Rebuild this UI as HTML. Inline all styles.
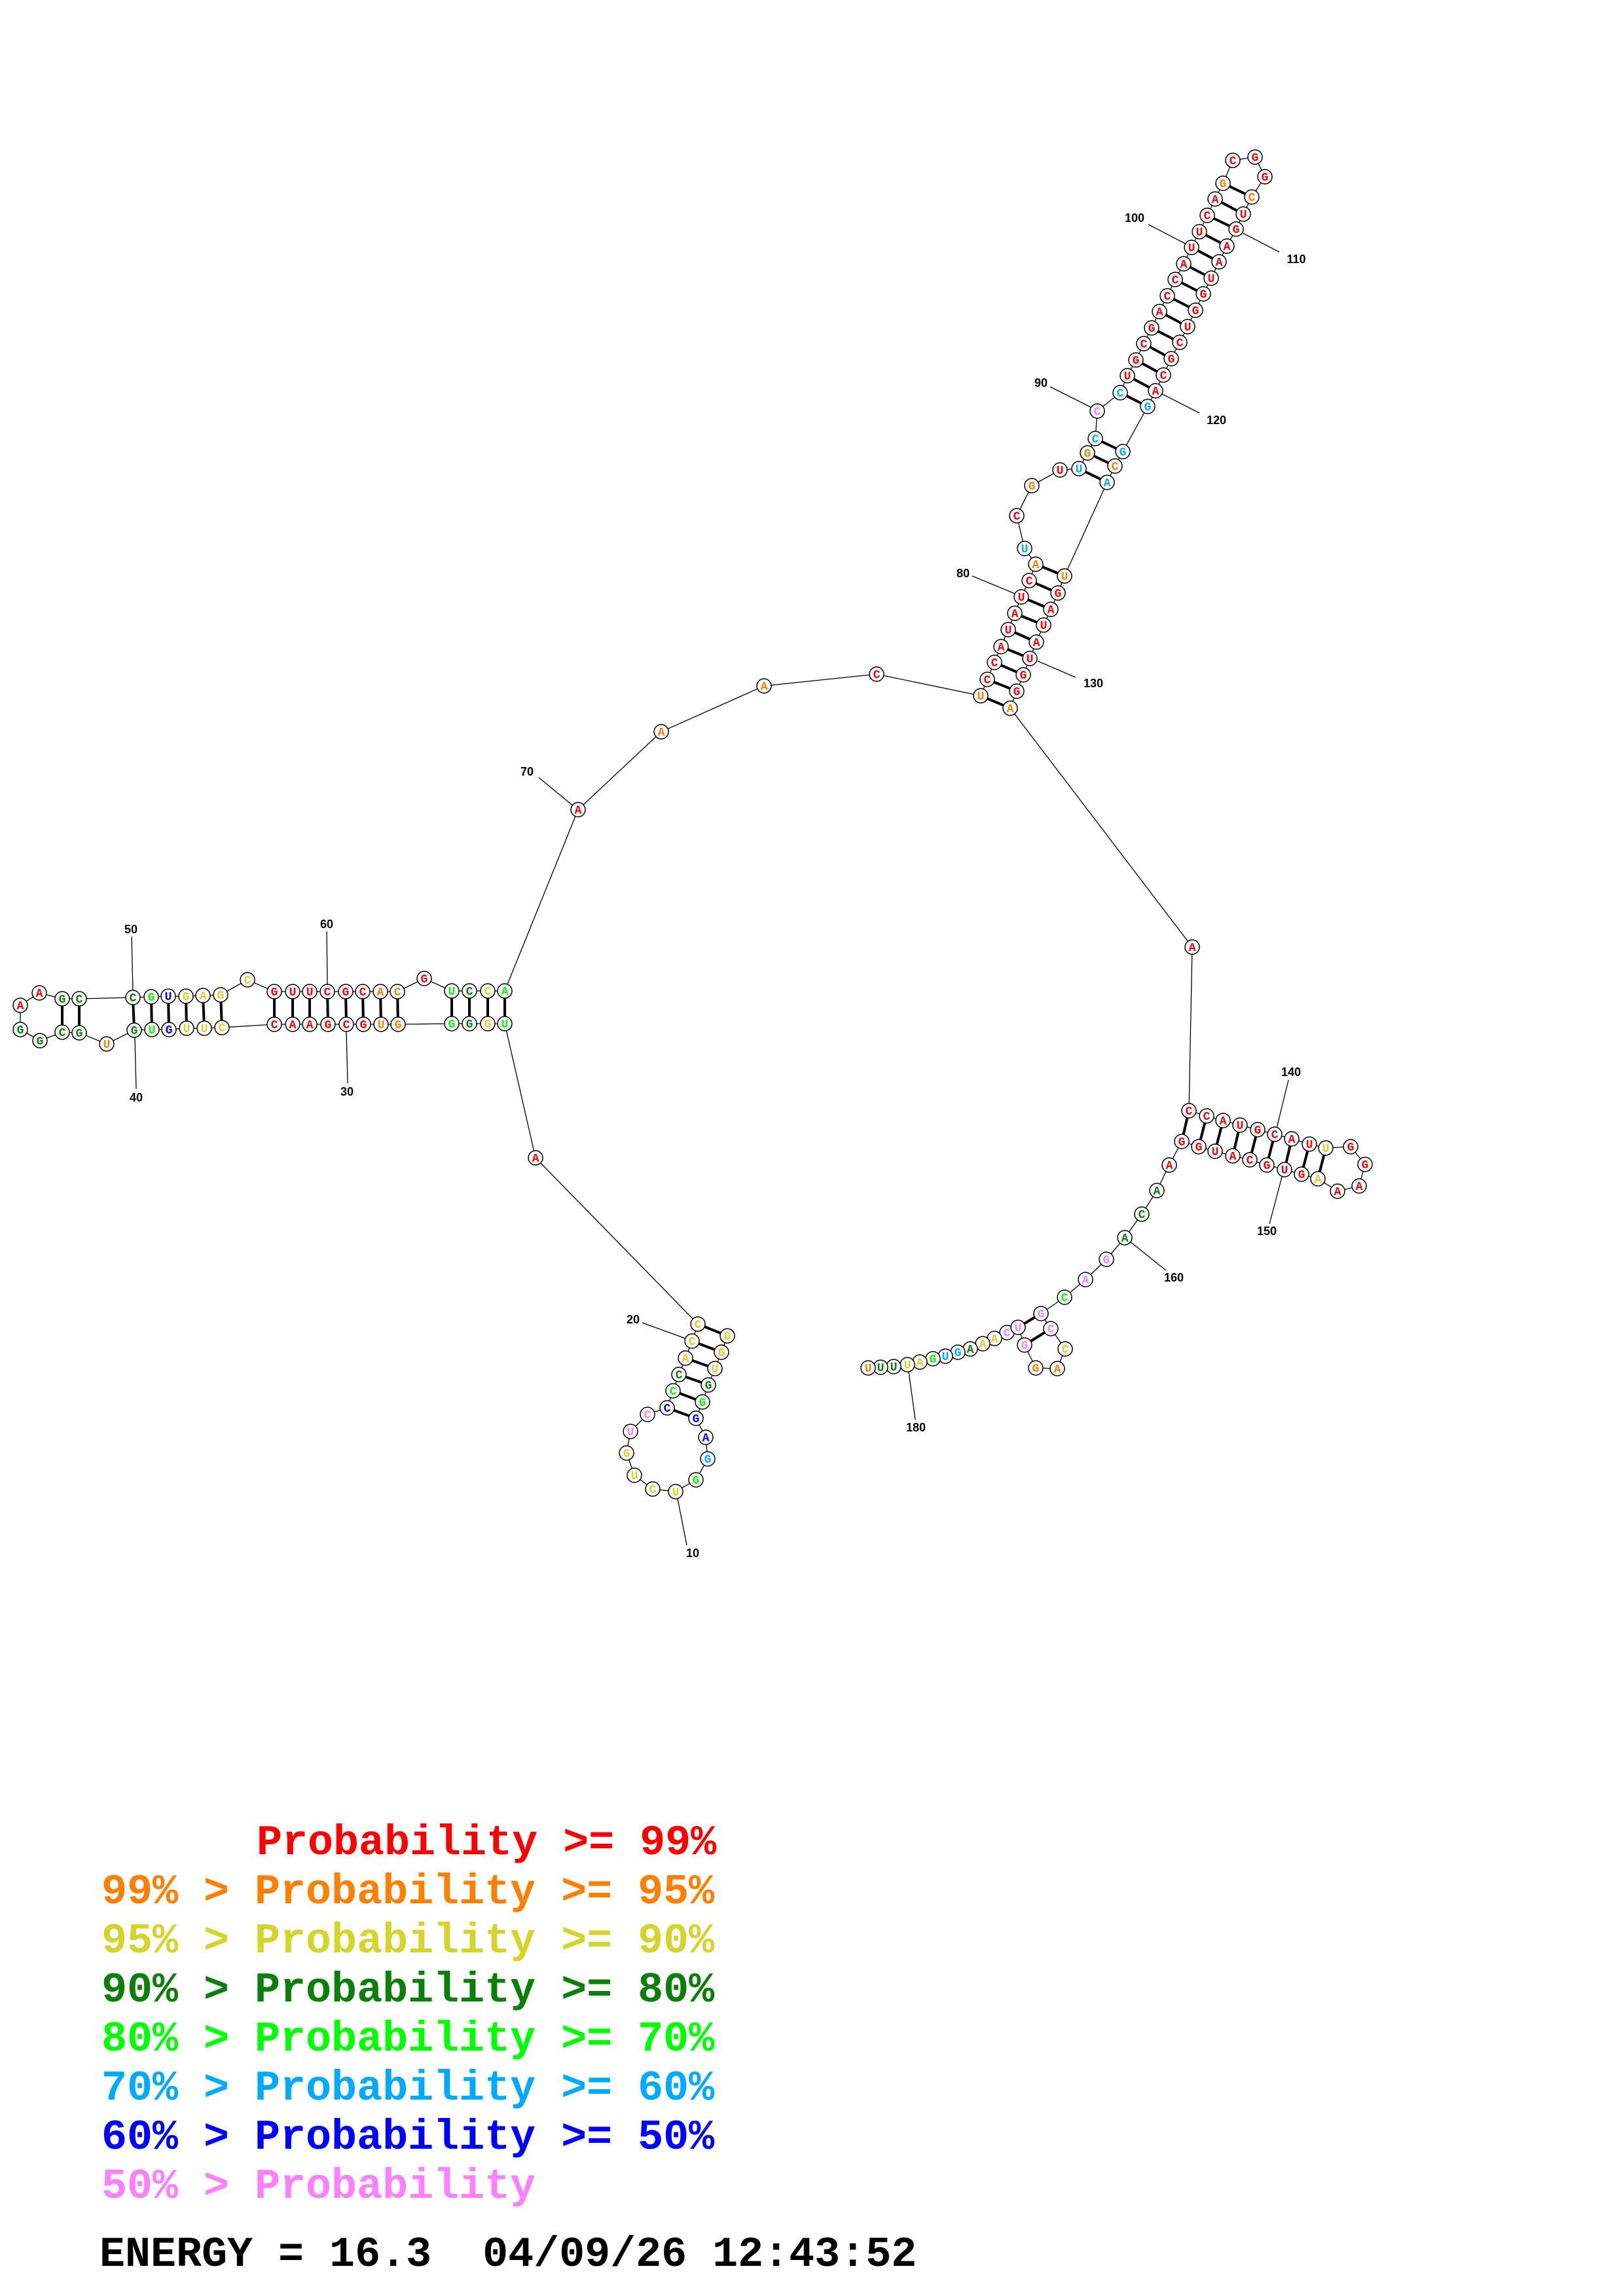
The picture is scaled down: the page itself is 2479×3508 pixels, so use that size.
<!DOCTYPE html>
<html><head><meta charset="utf-8"><style>
html,body{margin:0;padding:0;background:#fff;}
svg{display:block;}
.bb{fill:none;stroke:#000;stroke-width:1.3;}
.pr{stroke:#000;stroke-width:4;}
.tk{stroke:#000;stroke-width:1.3;}
circle{fill:#fff;stroke:#000;stroke-width:1.5;}
text.n{font-family:"Liberation Mono",monospace;font-weight:bold;font-size:18px;text-anchor:middle;}
text.l{font-family:"Liberation Sans",sans-serif;font-weight:bold;font-size:18px;text-anchor:middle;fill:#000;}
text.lg{font-family:"Liberation Mono",monospace;font-weight:bold;font-size:65px;white-space:pre;}
.r{fill:#ff0000}.o{fill:#ff8000}.y{fill:#d4d42a}.d{fill:#0a800a}.g{fill:#00ff00}.c{fill:#00aaff}.b{fill:#0000ff}.p{fill:#ff80ff}.k{fill:#000}
</style></head><body>
<svg width="2479" height="3508" viewBox="0 0 2479 3508" xmlns="http://www.w3.org/2000/svg">
<polyline class="bb" points="1111,2041 1102,2066 1092,2091 1082,2116 1073,2142 1063,2167 1078,2196 1081,2229 1063,2261 1032,2279 997,2275 969,2254 957,2220 963,2187 989,2161 1019,2151 1028,2125 1037,2100 1047,2075 1057,2049 1066,2023 818,1769 771,1564 745,1564 717,1564 690,1564 608,1565 582,1565 555,1565 529,1565 501,1565 473,1565 447,1565 419,1565 339,1570 312,1571 285,1571 258,1573 232,1573 205,1574 163,1595 121,1578 95,1577 61,1590 31,1573 31,1536 60,1517 95,1526 121,1526 203,1524 231,1523 257,1522 284,1522 310,1521 337,1520 378,1497 419,1515 447,1515 473,1515 500,1515 528,1515 554,1515 581,1515 607,1515 648,1495 690,1514 717,1514 745,1514 771,1514 883,1237 1010,1118 1167,1048 1339,1030 1498,1063 1508,1038 1519,1012 1529,988 1540,962 1550,937 1560,912 1572,887 1582,862 1565,838 1553,788 1576,742 1619,718 1648,716 1661,692 1673,670 1676,628 1711,600 1722,574 1735,550 1747,525 1759,501 1771,476 1783,452 1795,427 1808,403 1820,378 1832,354 1844,329 1856,304 1868,280 1883,245 1917,240 1932,270 1912,301 1899,327 1888,350 1874,376 1862,400 1850,425 1838,449 1826,474 1814,499 1802,523 1789,548 1777,573 1765,597 1753,621 1715,690 1703,712 1691,737 1626,880 1616,906 1605,931 1594,955 1583,981 1573,1006 1563,1031 1553,1056 1543,1082 1821,1447 1816,1697 1843,1705 1868,1712 1894,1719 1921,1726 1947,1733 1973,1740 2000,1748 2025,1754 2063,1752 2085,1779 2076,1812 2043,1820 2013,1801 1988,1794 1962,1787 1935,1780 1909,1772 1883,1766 1856,1759 1831,1752 1805,1744 1786,1780 1767,1819 1744,1855 1718,1891 1690,1924 1658,1955 1626,1982 1590,2007 1605,2030 1627,2061 1615,2091 1582,2090 1565,2055 1555,2028 1538,2036 1519,2045 1501,2053 1482,2061 1463,2066 1444,2072 1425,2076 1405,2081 1386,2085 1365,2088 1345,2089 1326,2090"/>
<g class="pr">
<line x1="1111" y1="2041" x2="1066" y2="2023"/><line x1="1102" y1="2066" x2="1057" y2="2049"/><line x1="1092" y1="2091" x2="1047" y2="2075"/><line x1="1082" y1="2116" x2="1037" y2="2100"/><line x1="1073" y1="2142" x2="1028" y2="2125"/><line x1="1063" y1="2167" x2="1019" y2="2151"/>
<line x1="95" y1="1526" x2="95" y2="1577"/><line x1="121" y1="1526" x2="121" y2="1578"/>
<line x1="203" y1="1524" x2="205" y2="1574"/><line x1="231" y1="1523" x2="232" y2="1573"/><line x1="257" y1="1522" x2="258" y2="1573"/><line x1="284" y1="1522" x2="285" y2="1571"/><line x1="310" y1="1521" x2="312" y2="1571"/><line x1="337" y1="1520" x2="339" y2="1570"/>
<line x1="419" y1="1515" x2="419" y2="1565"/><line x1="447" y1="1515" x2="447" y2="1565"/><line x1="473" y1="1515" x2="473" y2="1565"/><line x1="500" y1="1515" x2="501" y2="1565"/><line x1="528" y1="1515" x2="529" y2="1565"/><line x1="554" y1="1515" x2="555" y2="1565"/><line x1="581" y1="1515" x2="582" y2="1565"/><line x1="607" y1="1515" x2="608" y2="1565"/>
<line x1="690" y1="1514" x2="690" y2="1564"/><line x1="717" y1="1514" x2="717" y2="1564"/><line x1="745" y1="1514" x2="745" y2="1564"/><line x1="771" y1="1514" x2="771" y2="1564"/>
<line x1="1498" y1="1063" x2="1543" y2="1082"/><line x1="1508" y1="1038" x2="1553" y2="1056"/><line x1="1519" y1="1012" x2="1563" y2="1031"/><line x1="1529" y1="988" x2="1573" y2="1006"/><line x1="1540" y1="962" x2="1583" y2="981"/><line x1="1550" y1="937" x2="1594" y2="955"/><line x1="1560" y1="912" x2="1605" y2="931"/><line x1="1572" y1="887" x2="1616" y2="906"/><line x1="1582" y1="862" x2="1626" y2="880"/>
<line x1="1648" y1="716" x2="1691" y2="737"/><line x1="1661" y1="692" x2="1703" y2="712"/><line x1="1673" y1="670" x2="1715" y2="690"/>
<line x1="1711" y1="600" x2="1753" y2="621"/><line x1="1722" y1="574" x2="1765" y2="597"/><line x1="1735" y1="550" x2="1777" y2="573"/><line x1="1747" y1="525" x2="1789" y2="548"/><line x1="1759" y1="501" x2="1802" y2="523"/><line x1="1771" y1="476" x2="1814" y2="499"/><line x1="1783" y1="452" x2="1826" y2="474"/><line x1="1795" y1="427" x2="1838" y2="449"/><line x1="1808" y1="403" x2="1850" y2="425"/><line x1="1820" y1="378" x2="1862" y2="400"/><line x1="1832" y1="354" x2="1874" y2="376"/><line x1="1844" y1="329" x2="1888" y2="350"/><line x1="1856" y1="304" x2="1899" y2="327"/><line x1="1868" y1="280" x2="1912" y2="301"/>
<line x1="1816" y1="1697" x2="1805" y2="1744"/><line x1="1843" y1="1705" x2="1831" y2="1752"/><line x1="1868" y1="1712" x2="1856" y2="1759"/><line x1="1894" y1="1719" x2="1883" y2="1766"/><line x1="1921" y1="1726" x2="1909" y2="1772"/><line x1="1947" y1="1733" x2="1935" y2="1780"/><line x1="1973" y1="1740" x2="1962" y2="1787"/><line x1="2000" y1="1748" x2="1988" y2="1794"/><line x1="2025" y1="1754" x2="2013" y2="1801"/>
<line x1="1590" y1="2007" x2="1555" y2="2028"/><line x1="1605" y1="2030" x2="1565" y2="2055"/>
</g>
<g class="tk">
<line x1="201" y1="1431" x2="203" y2="1513"/><line x1="499" y1="1423" x2="500" y2="1504"/><line x1="206" y1="1585" x2="208" y2="1664"/><line x1="529" y1="1576" x2="531" y2="1655"/>
<line x1="823" y1="1188" x2="874" y2="1230"/>
<line x1="1485" y1="880" x2="1550" y2="907"/><line x1="1585" y1="1010" x2="1643" y2="1035"/>
<line x1="1604" y1="591" x2="1666" y2="622"/><line x1="1775" y1="602" x2="1832" y2="631"/>
<line x1="1754" y1="343" x2="1810" y2="372"/><line x1="1898" y1="356" x2="1954" y2="385"/>
<line x1="1968" y1="1650" x2="1950" y2="1724"/><line x1="1939" y1="1870" x2="1958" y2="1798"/>
<line x1="1781" y1="1941" x2="1726" y2="1897"/><line x1="1398" y1="2169" x2="1388" y2="2096"/>
<line x1="981" y1="2021" x2="1047" y2="2045"/><line x1="1035" y1="2290" x2="1049" y2="2361"/>
</g>
<g>
<circle cx="1111" cy="2041" r="11"/><text class="n y" x="1111" y="2047">G</text>
<circle cx="1102" cy="2066" r="11"/><text class="n y" x="1102" y="2072">G</text>
<circle cx="1092" cy="2091" r="11"/><text class="n y" x="1092" y="2097">U</text>
<circle cx="1082" cy="2116" r="11"/><text class="n d" x="1082" y="2122">G</text>
<circle cx="1073" cy="2142" r="11"/><text class="n g" x="1073" y="2148">G</text>
<circle cx="1063" cy="2167" r="11"/><text class="n b" x="1063" y="2173">G</text>
<circle cx="1078" cy="2196" r="11"/><text class="n b" x="1078" y="2202">A</text>
<circle cx="1081" cy="2229" r="11"/><text class="n c" x="1081" y="2235">G</text>
<circle cx="1063" cy="2261" r="11"/><text class="n g" x="1063" y="2267">G</text>
<circle cx="1032" cy="2279" r="11"/><text class="n y" x="1032" y="2285">U</text>
<circle cx="997" cy="2275" r="11"/><text class="n y" x="997" y="2281">C</text>
<circle cx="969" cy="2254" r="11"/><text class="n y" x="969" y="2260">U</text>
<circle cx="957" cy="2220" r="11"/><text class="n y" x="957" y="2226">G</text>
<circle cx="963" cy="2187" r="11"/><text class="n p" x="963" y="2193">U</text>
<circle cx="989" cy="2161" r="11"/><text class="n p" x="989" y="2167">C</text>
<circle cx="1019" cy="2151" r="11"/><text class="n b" x="1019" y="2157">C</text>
<circle cx="1028" cy="2125" r="11"/><text class="n g" x="1028" y="2131">C</text>
<circle cx="1037" cy="2100" r="11"/><text class="n d" x="1037" y="2106">C</text>
<circle cx="1047" cy="2075" r="11"/><text class="n y" x="1047" y="2081">A</text>
<circle cx="1057" cy="2049" r="11"/><text class="n y" x="1057" y="2055">C</text>
<circle cx="1066" cy="2023" r="11"/><text class="n y" x="1066" y="2029">C</text>
<circle cx="818" cy="1769" r="11"/><text class="n r" x="818" y="1775">A</text>
<circle cx="771" cy="1564" r="11"/><text class="n g" x="771" y="1570">U</text>
<circle cx="745" cy="1564" r="11"/><text class="n y" x="745" y="1570">G</text>
<circle cx="717" cy="1564" r="11"/><text class="n d" x="717" y="1570">G</text>
<circle cx="690" cy="1564" r="11"/><text class="n g" x="690" y="1570">G</text>
<circle cx="608" cy="1565" r="11"/><text class="n o" x="608" y="1571">G</text>
<circle cx="582" cy="1565" r="11"/><text class="n o" x="582" y="1571">U</text>
<circle cx="555" cy="1565" r="11"/><text class="n r" x="555" y="1571">G</text>
<circle cx="529" cy="1565" r="11"/><text class="n r" x="529" y="1571">C</text>
<circle cx="501" cy="1565" r="11"/><text class="n r" x="501" y="1571">G</text>
<circle cx="473" cy="1565" r="11"/><text class="n r" x="473" y="1571">A</text>
<circle cx="447" cy="1565" r="11"/><text class="n r" x="447" y="1571">A</text>
<circle cx="419" cy="1565" r="11"/><text class="n r" x="419" y="1571">C</text>
<circle cx="339" cy="1570" r="11"/><text class="n y" x="339" y="1576">C</text>
<circle cx="312" cy="1571" r="11"/><text class="n y" x="312" y="1577">U</text>
<circle cx="285" cy="1571" r="11"/><text class="n y" x="285" y="1577">U</text>
<circle cx="258" cy="1573" r="11"/><text class="n b" x="258" y="1579">G</text>
<circle cx="232" cy="1573" r="11"/><text class="n g" x="232" y="1579">U</text>
<circle cx="205" cy="1574" r="11"/><text class="n d" x="205" y="1580">G</text>
<circle cx="163" cy="1595" r="11"/><text class="n o" x="163" y="1601">U</text>
<circle cx="121" cy="1578" r="11"/><text class="n d" x="121" y="1584">G</text>
<circle cx="95" cy="1577" r="11"/><text class="n d" x="95" y="1583">C</text>
<circle cx="61" cy="1590" r="11"/><text class="n d" x="61" y="1596">G</text>
<circle cx="31" cy="1573" r="11"/><text class="n d" x="31" y="1579">G</text>
<circle cx="31" cy="1536" r="11"/><text class="n r" x="31" y="1542">A</text>
<circle cx="60" cy="1517" r="11"/><text class="n r" x="60" y="1523">A</text>
<circle cx="95" cy="1526" r="11"/><text class="n d" x="95" y="1532">G</text>
<circle cx="121" cy="1526" r="11"/><text class="n d" x="121" y="1532">C</text>
<circle cx="203" cy="1524" r="11"/><text class="n d" x="203" y="1530">C</text>
<circle cx="231" cy="1523" r="11"/><text class="n g" x="231" y="1529">G</text>
<circle cx="257" cy="1522" r="11"/><text class="n b" x="257" y="1528">U</text>
<circle cx="284" cy="1522" r="11"/><text class="n y" x="284" y="1528">G</text>
<circle cx="310" cy="1521" r="11"/><text class="n y" x="310" y="1527">A</text>
<circle cx="337" cy="1520" r="11"/><text class="n y" x="337" y="1526">G</text>
<circle cx="378" cy="1497" r="11"/><text class="n y" x="378" y="1503">C</text>
<circle cx="419" cy="1515" r="11"/><text class="n r" x="419" y="1521">G</text>
<circle cx="447" cy="1515" r="11"/><text class="n r" x="447" y="1521">U</text>
<circle cx="473" cy="1515" r="11"/><text class="n r" x="473" y="1521">U</text>
<circle cx="500" cy="1515" r="11"/><text class="n r" x="500" y="1521">C</text>
<circle cx="528" cy="1515" r="11"/><text class="n r" x="528" y="1521">G</text>
<circle cx="554" cy="1515" r="11"/><text class="n r" x="554" y="1521">C</text>
<circle cx="581" cy="1515" r="11"/><text class="n o" x="581" y="1521">A</text>
<circle cx="607" cy="1515" r="11"/><text class="n o" x="607" y="1521">C</text>
<circle cx="648" cy="1495" r="11"/><text class="n r" x="648" y="1501">G</text>
<circle cx="690" cy="1514" r="11"/><text class="n g" x="690" y="1520">U</text>
<circle cx="717" cy="1514" r="11"/><text class="n d" x="717" y="1520">C</text>
<circle cx="745" cy="1514" r="11"/><text class="n y" x="745" y="1520">C</text>
<circle cx="771" cy="1514" r="11"/><text class="n g" x="771" y="1520">A</text>
<circle cx="883" cy="1237" r="11"/><text class="n r" x="883" y="1243">A</text>
<circle cx="1010" cy="1118" r="11"/><text class="n o" x="1010" y="1124">A</text>
<circle cx="1167" cy="1048" r="11"/><text class="n o" x="1167" y="1054">A</text>
<circle cx="1339" cy="1030" r="11"/><text class="n r" x="1339" y="1036">C</text>
<circle cx="1498" cy="1063" r="11"/><text class="n o" x="1498" y="1069">U</text>
<circle cx="1508" cy="1038" r="11"/><text class="n r" x="1508" y="1044">C</text>
<circle cx="1519" cy="1012" r="11"/><text class="n r" x="1519" y="1018">C</text>
<circle cx="1529" cy="988" r="11"/><text class="n r" x="1529" y="994">A</text>
<circle cx="1540" cy="962" r="11"/><text class="n r" x="1540" y="968">U</text>
<circle cx="1550" cy="937" r="11"/><text class="n r" x="1550" y="943">A</text>
<circle cx="1560" cy="912" r="11"/><text class="n r" x="1560" y="918">U</text>
<circle cx="1572" cy="887" r="11"/><text class="n r" x="1572" y="893">C</text>
<circle cx="1582" cy="862" r="11"/><text class="n o" x="1582" y="868">A</text>
<circle cx="1565" cy="838" r="11"/><text class="n c" x="1565" y="844">U</text>
<circle cx="1553" cy="788" r="11"/><text class="n r" x="1553" y="794">C</text>
<circle cx="1576" cy="742" r="11"/><text class="n o" x="1576" y="748">G</text>
<circle cx="1619" cy="718" r="11"/><text class="n r" x="1619" y="724">U</text>
<circle cx="1648" cy="716" r="11"/><text class="n c" x="1648" y="722">U</text>
<circle cx="1661" cy="692" r="11"/><text class="n o" x="1661" y="698">G</text>
<circle cx="1673" cy="670" r="11"/><text class="n c" x="1673" y="676">C</text>
<circle cx="1676" cy="628" r="11"/><text class="n p" x="1676" y="634">C</text>
<circle cx="1711" cy="600" r="11"/><text class="n c" x="1711" y="606">C</text>
<circle cx="1722" cy="574" r="11"/><text class="n r" x="1722" y="580">U</text>
<circle cx="1735" cy="550" r="11"/><text class="n r" x="1735" y="556">G</text>
<circle cx="1747" cy="525" r="11"/><text class="n r" x="1747" y="531">C</text>
<circle cx="1759" cy="501" r="11"/><text class="n r" x="1759" y="507">G</text>
<circle cx="1771" cy="476" r="11"/><text class="n r" x="1771" y="482">A</text>
<circle cx="1783" cy="452" r="11"/><text class="n r" x="1783" y="458">C</text>
<circle cx="1795" cy="427" r="11"/><text class="n r" x="1795" y="433">C</text>
<circle cx="1808" cy="403" r="11"/><text class="n r" x="1808" y="409">A</text>
<circle cx="1820" cy="378" r="11"/><text class="n r" x="1820" y="384">U</text>
<circle cx="1832" cy="354" r="11"/><text class="n r" x="1832" y="360">U</text>
<circle cx="1844" cy="329" r="11"/><text class="n r" x="1844" y="335">C</text>
<circle cx="1856" cy="304" r="11"/><text class="n r" x="1856" y="310">A</text>
<circle cx="1868" cy="280" r="11"/><text class="n o" x="1868" y="286">G</text>
<circle cx="1883" cy="245" r="11"/><text class="n r" x="1883" y="251">C</text>
<circle cx="1917" cy="240" r="11"/><text class="n r" x="1917" y="246">G</text>
<circle cx="1932" cy="270" r="11"/><text class="n r" x="1932" y="276">G</text>
<circle cx="1912" cy="301" r="11"/><text class="n o" x="1912" y="307">C</text>
<circle cx="1899" cy="327" r="11"/><text class="n r" x="1899" y="333">U</text>
<circle cx="1888" cy="350" r="11"/><text class="n r" x="1888" y="356">G</text>
<circle cx="1874" cy="376" r="11"/><text class="n r" x="1874" y="382">A</text>
<circle cx="1862" cy="400" r="11"/><text class="n r" x="1862" y="406">A</text>
<circle cx="1850" cy="425" r="11"/><text class="n r" x="1850" y="431">U</text>
<circle cx="1838" cy="449" r="11"/><text class="n r" x="1838" y="455">G</text>
<circle cx="1826" cy="474" r="11"/><text class="n r" x="1826" y="480">G</text>
<circle cx="1814" cy="499" r="11"/><text class="n r" x="1814" y="505">U</text>
<circle cx="1802" cy="523" r="11"/><text class="n r" x="1802" y="529">C</text>
<circle cx="1789" cy="548" r="11"/><text class="n r" x="1789" y="554">G</text>
<circle cx="1777" cy="573" r="11"/><text class="n r" x="1777" y="579">C</text>
<circle cx="1765" cy="597" r="11"/><text class="n r" x="1765" y="603">A</text>
<circle cx="1753" cy="621" r="11"/><text class="n c" x="1753" y="627">G</text>
<circle cx="1715" cy="690" r="11"/><text class="n c" x="1715" y="696">G</text>
<circle cx="1703" cy="712" r="11"/><text class="n o" x="1703" y="718">C</text>
<circle cx="1691" cy="737" r="11"/><text class="n c" x="1691" y="743">A</text>
<circle cx="1626" cy="880" r="11"/><text class="n o" x="1626" y="886">U</text>
<circle cx="1616" cy="906" r="11"/><text class="n r" x="1616" y="912">G</text>
<circle cx="1605" cy="931" r="11"/><text class="n r" x="1605" y="937">A</text>
<circle cx="1594" cy="955" r="11"/><text class="n r" x="1594" y="961">U</text>
<circle cx="1583" cy="981" r="11"/><text class="n r" x="1583" y="987">A</text>
<circle cx="1573" cy="1006" r="11"/><text class="n r" x="1573" y="1012">U</text>
<circle cx="1563" cy="1031" r="11"/><text class="n r" x="1563" y="1037">G</text>
<circle cx="1553" cy="1056" r="11"/><text class="n r" x="1553" y="1062">G</text>
<circle cx="1543" cy="1082" r="11"/><text class="n o" x="1543" y="1088">A</text>
<circle cx="1821" cy="1447" r="11"/><text class="n r" x="1821" y="1453">A</text>
<circle cx="1816" cy="1697" r="11"/><text class="n r" x="1816" y="1703">C</text>
<circle cx="1843" cy="1705" r="11"/><text class="n r" x="1843" y="1711">C</text>
<circle cx="1868" cy="1712" r="11"/><text class="n r" x="1868" y="1718">A</text>
<circle cx="1894" cy="1719" r="11"/><text class="n r" x="1894" y="1725">U</text>
<circle cx="1921" cy="1726" r="11"/><text class="n r" x="1921" y="1732">G</text>
<circle cx="1947" cy="1733" r="11"/><text class="n r" x="1947" y="1739">C</text>
<circle cx="1973" cy="1740" r="11"/><text class="n r" x="1973" y="1746">A</text>
<circle cx="2000" cy="1748" r="11"/><text class="n r" x="2000" y="1754">U</text>
<circle cx="2025" cy="1754" r="11"/><text class="n y" x="2025" y="1760">U</text>
<circle cx="2063" cy="1752" r="11"/><text class="n r" x="2063" y="1758">G</text>
<circle cx="2085" cy="1779" r="11"/><text class="n r" x="2085" y="1785">G</text>
<circle cx="2076" cy="1812" r="11"/><text class="n r" x="2076" y="1818">A</text>
<circle cx="2043" cy="1820" r="11"/><text class="n r" x="2043" y="1826">A</text>
<circle cx="2013" cy="1801" r="11"/><text class="n y" x="2013" y="1807">A</text>
<circle cx="1988" cy="1794" r="11"/><text class="n r" x="1988" y="1800">G</text>
<circle cx="1962" cy="1787" r="11"/><text class="n r" x="1962" y="1793">U</text>
<circle cx="1935" cy="1780" r="11"/><text class="n r" x="1935" y="1786">G</text>
<circle cx="1909" cy="1772" r="11"/><text class="n r" x="1909" y="1778">C</text>
<circle cx="1883" cy="1766" r="11"/><text class="n r" x="1883" y="1772">A</text>
<circle cx="1856" cy="1759" r="11"/><text class="n r" x="1856" y="1765">U</text>
<circle cx="1831" cy="1752" r="11"/><text class="n r" x="1831" y="1758">G</text>
<circle cx="1805" cy="1744" r="11"/><text class="n r" x="1805" y="1750">G</text>
<circle cx="1786" cy="1780" r="11"/><text class="n r" x="1786" y="1786">A</text>
<circle cx="1767" cy="1819" r="11"/><text class="n d" x="1767" y="1825">A</text>
<circle cx="1744" cy="1855" r="11"/><text class="n d" x="1744" y="1861">C</text>
<circle cx="1718" cy="1891" r="11"/><text class="n d" x="1718" y="1897">A</text>
<circle cx="1690" cy="1924" r="11"/><text class="n p" x="1690" y="1930">G</text>
<circle cx="1658" cy="1955" r="11"/><text class="n p" x="1658" y="1961">A</text>
<circle cx="1626" cy="1982" r="11"/><text class="n g" x="1626" y="1988">C</text>
<circle cx="1590" cy="2007" r="11"/><text class="n p" x="1590" y="2013">G</text>
<circle cx="1605" cy="2030" r="11"/><text class="n p" x="1605" y="2036">C</text>
<circle cx="1627" cy="2061" r="11"/><text class="n y" x="1627" y="2067">C</text>
<circle cx="1615" cy="2091" r="11"/><text class="n o" x="1615" y="2097">A</text>
<circle cx="1582" cy="2090" r="11"/><text class="n o" x="1582" y="2096">G</text>
<circle cx="1565" cy="2055" r="11"/><text class="n p" x="1565" y="2061">G</text>
<circle cx="1538" cy="2036" r="11"/><text class="n p" x="1538" y="2042">C</text>
<circle cx="1555" cy="2028" r="11"/><text class="n p" x="1555" y="2034">U</text>
<circle cx="1519" cy="2045" r="11"/><text class="n y" x="1519" y="2051">A</text>
<circle cx="1501" cy="2053" r="11"/><text class="n y" x="1501" y="2059">A</text>
<circle cx="1482" cy="2061" r="11"/><text class="n d" x="1482" y="2067">A</text>
<circle cx="1463" cy="2066" r="11"/><text class="n c" x="1463" y="2072">G</text>
<circle cx="1444" cy="2072" r="11"/><text class="n c" x="1444" y="2078">U</text>
<circle cx="1425" cy="2076" r="11"/><text class="n g" x="1425" y="2082">G</text>
<circle cx="1405" cy="2081" r="11"/><text class="n y" x="1405" y="2087">A</text>
<circle cx="1386" cy="2085" r="11"/><text class="n y" x="1386" y="2091">U</text>
<circle cx="1365" cy="2088" r="11"/><text class="n d" x="1365" y="2094">U</text>
<circle cx="1345" cy="2089" r="11"/><text class="n d" x="1345" y="2095">U</text>
<circle cx="1326" cy="2090" r="11"/><text class="n o" x="1326" y="2096">U</text>
</g>
<g>
<text class="l" x="200" y="1426">50</text>
<text class="l" x="499" y="1418">60</text>
<text class="l" x="208" y="1683">40</text>
<text class="l" x="530" y="1674">30</text>
<text class="l" x="805" y="1185">70</text>
<text class="l" x="1471" y="882">80</text>
<text class="l" x="1590" y="591">90</text>
<text class="l" x="1733" y="339">100</text>
<text class="l" x="1980" y="402">110</text>
<text class="l" x="1858" y="648">120</text>
<text class="l" x="1670" y="1050">130</text>
<text class="l" x="1972" y="1644">140</text>
<text class="l" x="1935" y="1887">150</text>
<text class="l" x="1793" y="1958">160</text>
<text class="l" x="1399" y="2187">180</text>
<text class="l" x="967" y="2022">20</text>
<text class="l" x="1058" y="2379">10</text>
</g>
<g>
<text class="lg r" x="392" y="2833">Probability &gt;= 99%</text>
<text class="lg o" x="155" y="2908">99% &gt; Probability &gt;= 95%</text>
<text class="lg y" x="155" y="2983">95% &gt; Probability &gt;= 90%</text>
<text class="lg d" x="155" y="3058">90% &gt; Probability &gt;= 80%</text>
<text class="lg g" x="155" y="3133">80% &gt; Probability &gt;= 70%</text>
<text class="lg c" x="155" y="3208">70% &gt; Probability &gt;= 60%</text>
<text class="lg b" x="155" y="3283">60% &gt; Probability &gt;= 50%</text>
<text class="lg p" x="155" y="3358">50% &gt; Probability</text>
<text class="lg k" x="152" y="3462">ENERGY = 16.3  04/09/26 12:43:52</text>
</g>
</svg>
</body></html>
